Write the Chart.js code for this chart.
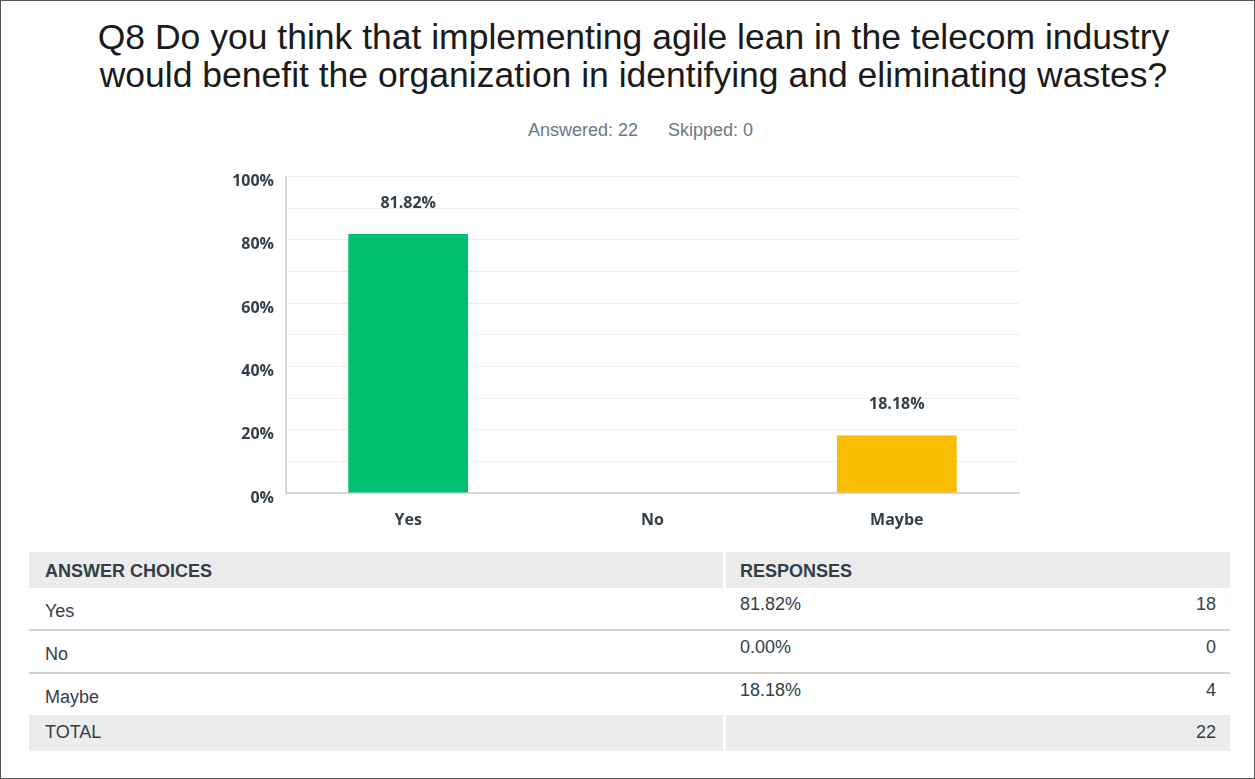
<!DOCTYPE html>
<html>
<head>
<meta charset="utf-8">
<script src="https://cdn.jsdelivr.net/npm/chart.js@4/dist/chart.umd.min.js"></script>
<style>
  html, body { margin: 0; padding: 0; background: #fff; }
  #page { position: relative; width: 1255px; height: 779px; box-sizing: border-box; border: 1px solid #555; overflow: hidden; font-family: "Liberation Sans", Arial, sans-serif; }
  #title { position: absolute; left: 0; width: 1265px; top: 17px; text-align: center; font-size: 35.5px; line-height: 38px; color: #1a1a1a; }
  #meta { position: absolute; left: 12px; width: 1255px; top: 119px; text-align: center; font-size: 18px; color: #6b7787; }
  #meta span { margin: 0 15px; }
  #wrap { position: absolute; left: 200px; top: 154px; width: 822px; height: 386px; }
  #tbl { position: absolute; left: 28px; top: 551px; width: 1201px; font-size: 18px; color: #333e48; }
  .row { position: relative; display: flex; }
  .c1 { width: 694px; box-sizing: border-box; padding-left: 16px; }
  .c2 { flex: 1; box-sizing: border-box; padding-left: 14px; position: relative; }
  .num { position: absolute; right: 14px; }
  .head, .total { background: #ebeceb; height: 36px; }
  .head .c2, .total .c2 { border-left: 3px solid #fff; }
  .head div { font-weight: bold; line-height: 38px; }
  .total div { line-height: 34px; }
  .body { height: 41px; border-bottom: 2px solid #d3d3d3; }
  .body.last { border-bottom: none; }
  .body .c1 { padding-top: 13px; }
  .body .c2 { padding-top: 6px; padding-left: 17px; }
  .body .num { top: 6px; }
</style>
</head>
<body>
<div id="page">
  <div id="title">Q8 Do you think that implementing agile lean in the telecom industry<br>would benefit the organization in identifying and eliminating wastes?</div>
  <div id="meta"><span>Answered: 22</span><span>Skipped: 0</span></div>
  <div id="wrap"><canvas id="chart" width="822" height="386"></canvas></div>
  <div id="tbl"></div>
</div>
<script>
// answer choices and survey results
var choices = ["Yes", "No", "Maybe"];
var percents = [81.82, 0, 18.18];
var counts = [18, 0, 4];
var total = 22;
var colors = ["#00bf6f", "#00bf6f", "#f9be00"];
var yTicks = [0, 10, 20, 30, 40, 50, 60, 70, 80, 90, 100];

// table under the chart
var t = '<div class="row head"><div class="c1">ANSWER CHOICES</div><div class="c2">RESPONSES</div></div>';
for (var i = 0; i < choices.length; i++) {
  t += '<div class="row body' + (i == choices.length - 1 ? ' last' : '') + '"><div class="c1">' + choices[i] +
       '</div><div class="c2">' + percents[i].toFixed(2) + '%<span class="num">' + counts[i] + '</span></div></div>';
}
t += '<div class="row total"><div class="c1">TOTAL</div><div class="c2"><span class="num">' + total + '</span></div></div>';
document.getElementById("tbl").innerHTML = t;

var labelFont = '"Open Sans", sans-serif';
var textColor = "#333e48";

// value labels above bars
var barLabels = {
  id: "barLabels",
  afterDatasetsDraw: function(chart) {
    var ctx = chart.ctx;
    var meta = chart.getDatasetMeta(0);
    ctx.save();
    ctx.font = "bold 16px " + labelFont;
    ctx.fillStyle = textColor;
    ctx.textAlign = "center";
    ctx.textBaseline = "middle";
    meta.data.forEach(function(bar, i) {
      if (percents[i] > 0) ctx.fillText(percents[i].toFixed(2) + "%", bar.x, bar.y - 31);
    });
    ctx.restore();
  }
};

var ctx = document.getElementById("chart");
new Chart(ctx, {
  type: "bar",
  data: {
    labels: choices,
    datasets: [{
      data: percents,
      backgroundColor: colors,
      barPercentage: 0.49,
      categoryPercentage: 1
    }]
  },
  options: {
    responsive: false,
    maintainAspectRatio: false,
    animation: false,
    layout: { padding: { top: 13, right: 4 } },
    plugins: { legend: { display: false }, tooltip: { enabled: false } },
    scales: {
      x: {
        grid: { display: false, drawTicks: false },
        border: { color: "#d6d6d6", width: 2 },
        ticks: { color: textColor, font: { family: labelFont, size: 16, weight: "bold" }, padding: 18 },
        afterFit: function(s) { s.height = 48; }
      },
      y: {
        min: 0, max: 100,
        afterBuildTicks: function(s) { s.ticks = yTicks.map(function(v) { return { value: v }; }); },
        grid: { color: "#eeeeee", drawTicks: false },
        border: { color: "#d6d6d6", width: 2 },
        ticks: {
          autoSkip: false,
          color: textColor,
          font: { family: labelFont, size: 16, weight: "bold" },
          padding: 12,
          labelOffset: 5,
          callback: function(v) { return v % 20 == 0 ? v + "%" : ""; }
        },
        afterFit: function(s) { s.width = 85; }
      }
    }
  },
  plugins: [barLabels]
});
</script>
</body>
</html>
